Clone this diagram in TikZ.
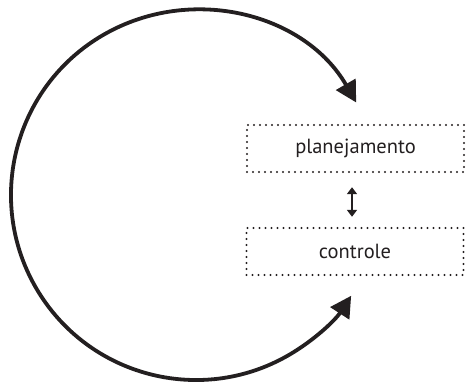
\documentclass[tikz,border=0pt]{standalone}
\usepackage{fontspec}
\setmainfont{PT Sans}
\usetikzlibrary{arrows.meta,calc}
\definecolor{ink}{HTML}{231F20}
\begin{document}
\begin{tikzpicture}[x=1pt,y=1pt,
  dotbox/.style={draw=ink, line width=2.4pt, line cap=round, dash pattern=on 0pt off 6pt,
    minimum width=217pt, minimum height=47pt, inner sep=0pt, text=ink, font=\fontsize{20.5}{23}\selectfont},
  bigarc/.style={draw=ink, line width=3.8pt, {Triangle[length=21pt,width=22pt]}-{Triangle[length=21pt,width=22pt]}},
  smallarrow/.style={draw=ink, line width=2.4pt, {Triangle[length=7pt,width=10pt]}-{Triangle[length=7pt,width=10pt]}}]
\useasboundingbox (0,0) rectangle (466,381);
\node[dotbox] (plan) at (355.5,232.5) {planejamento};
\node[dotbox] (ctrl) at (355,129.5) {controle};
\coordinate (c) at (196,186);
\draw[bigarc] (c) ++(30:185) arc[start angle=30, end angle=327, radius=185];
\draw[smallarrow] ([xshift=-3.5pt,yshift=-14pt]plan.south) -- ([xshift=-3pt,yshift=10pt]ctrl.north);
\end{tikzpicture}
\end{document}
